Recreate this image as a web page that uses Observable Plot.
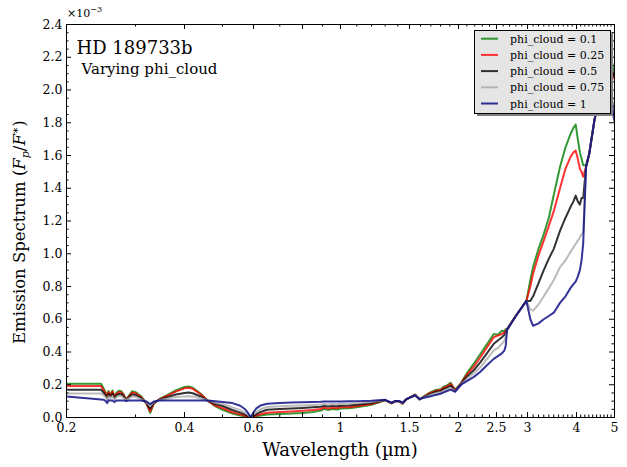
<!DOCTYPE html>
<html>
<head>
<meta charset="utf-8">
<script src="https://cdn.jsdelivr.net/npm/d3@7"></script>
<script src="https://cdn.jsdelivr.net/npm/@observablehq/plot@0.6"></script>
<style>
  body { margin: 0; background: #fff; }
  svg { display: block; }
</style>
</head>
<body>
<div id="chart"></div>
<script>
// Wavelength grid (µm) shared by every emission spectrum
const wavelength = [
  0.200, 0.245, 0.249, 0.252, 0.254, 0.256, 0.259, 0.262, 0.265, 0.268,
  0.272, 0.276, 0.280, 0.284, 0.289, 0.294, 0.300, 0.310, 0.320, 0.327,
  0.334, 0.345, 0.360, 0.380, 0.400, 0.410, 0.420, 0.440, 0.457, 0.480,
  0.500, 0.530, 0.555, 0.570, 0.580, 0.590, 0.600, 0.610, 0.625, 0.650,
  0.700, 0.750, 0.800, 0.850, 0.890, 0.910, 0.930, 0.950, 0.980, 1.000,
  1.050, 1.100, 1.200, 1.300, 1.350, 1.380, 1.410, 1.440, 1.470, 1.510,
  1.550, 1.590, 1.630, 1.690, 1.750, 1.800, 1.840, 1.870, 1.910, 1.960,
  2.030, 2.100, 2.190, 2.270, 2.360, 2.460, 2.520, 2.580, 2.620, 2.640,
  2.660, 2.800, 2.980, 3.050, 3.100, 3.200, 3.300, 3.400, 3.500, 3.630,
  3.750, 3.860, 3.930, 3.980, 4.030, 4.080, 4.120, 4.160, 4.230, 4.310,
  4.440, 4.600, 4.750, 4.900, 4.960, 5.000
];

// Planet/star flux ratio, in units of 1e-3, one array per cloud fraction
const phiCloud010 = [
  0.206, 0.206, 0.175, 0.150, 0.130, 0.162, 0.140, 0.165, 0.128, 0.150,
  0.163, 0.160, 0.140, 0.108, 0.135, 0.160, 0.155, 0.130, 0.085, 0.028,
  0.085, 0.112, 0.135, 0.165, 0.186, 0.189, 0.182, 0.145, 0.105, 0.068,
  0.047, 0.024, 0.012, 0.007, 0.004, 0.001, 0.004, 0.007, 0.012, 0.018,
  0.022, 0.024, 0.028, 0.034, 0.042, 0.053, 0.045, 0.052, 0.049, 0.055,
  0.056, 0.063, 0.078, 0.105, 0.086, 0.098, 0.100, 0.084, 0.110, 0.125,
  0.140, 0.110, 0.128, 0.152, 0.168, 0.172, 0.190, 0.196, 0.212, 0.168,
  0.210, 0.270, 0.330, 0.385, 0.445, 0.510, 0.505, 0.530, 0.525, 0.540,
  0.540, 0.620, 0.712, 0.840, 0.920, 1.030, 1.120, 1.220, 1.360, 1.530,
  1.650, 1.730, 1.770, 1.789, 1.700, 1.620, 1.580, 1.540, 1.540, 1.610,
  1.810, 2.000, 2.250, 2.200, 2.130, 2.120
];
const phiCloud025 = [
  0.193, 0.193, 0.165, 0.143, 0.125, 0.155, 0.135, 0.158, 0.124, 0.144,
  0.156, 0.153, 0.135, 0.108, 0.131, 0.152, 0.148, 0.125, 0.085, 0.038,
  0.087, 0.111, 0.130, 0.158, 0.178, 0.181, 0.175, 0.142, 0.105, 0.072,
  0.057, 0.032, 0.019, 0.011, 0.006, 0.001, 0.006, 0.012, 0.020, 0.029,
  0.034, 0.037, 0.041, 0.046, 0.052, 0.061, 0.054, 0.060, 0.057, 0.062,
  0.063, 0.069, 0.082, 0.106, 0.087, 0.099, 0.100, 0.085, 0.110, 0.125,
  0.140, 0.110, 0.126, 0.149, 0.163, 0.168, 0.184, 0.191, 0.205, 0.166,
  0.208, 0.260, 0.312, 0.365, 0.425, 0.490, 0.500, 0.510, 0.520, 0.530,
  0.540, 0.620, 0.712, 0.800, 0.880, 0.990, 1.080, 1.170, 1.260, 1.400,
  1.520, 1.590, 1.620, 1.630, 1.580, 1.520, 1.500, 1.470, 1.530, 1.610,
  1.810, 2.000, 2.220, 2.150, 2.080, 2.070
];
const phiCloud050 = [
  0.170, 0.170, 0.150, 0.132, 0.118, 0.143, 0.127, 0.145, 0.117, 0.134,
  0.144, 0.142, 0.127, 0.107, 0.125, 0.140, 0.137, 0.118, 0.088, 0.055,
  0.090, 0.109, 0.122, 0.140, 0.150, 0.152, 0.148, 0.128, 0.105, 0.082,
  0.070, 0.046, 0.030, 0.019, 0.010, 0.002, 0.011, 0.021, 0.034, 0.047,
  0.052, 0.055, 0.058, 0.062, 0.066, 0.072, 0.067, 0.071, 0.069, 0.072,
  0.074, 0.078, 0.088, 0.106, 0.088, 0.100, 0.100, 0.087, 0.110, 0.125,
  0.138, 0.111, 0.124, 0.143, 0.156, 0.161, 0.175, 0.182, 0.193, 0.163,
  0.206, 0.248, 0.290, 0.335, 0.390, 0.450, 0.470, 0.490, 0.505, 0.520,
  0.535, 0.620, 0.712, 0.712, 0.740, 0.820, 0.900, 0.970, 1.030, 1.140,
  1.220, 1.285, 1.320, 1.355, 1.320, 1.300, 1.340, 1.340, 1.530, 1.610,
  1.810, 2.000, 2.200, 2.150, 2.100, 2.080
];
const phiCloud075 = [
  0.147, 0.147, 0.135, 0.122, 0.110, 0.130, 0.118, 0.132, 0.110, 0.124,
  0.132, 0.130, 0.119, 0.106, 0.118, 0.128, 0.126, 0.112, 0.092, 0.070,
  0.094, 0.107, 0.115, 0.125, 0.129, 0.130, 0.128, 0.118, 0.105, 0.090,
  0.083, 0.062, 0.045, 0.030, 0.017, 0.002, 0.018, 0.033, 0.050, 0.064,
  0.069, 0.071, 0.073, 0.076, 0.079, 0.083, 0.080, 0.082, 0.081, 0.084,
  0.085, 0.088, 0.095, 0.107, 0.089, 0.100, 0.101, 0.088, 0.110, 0.124,
  0.136, 0.112, 0.122, 0.137, 0.148, 0.154, 0.166, 0.172, 0.181, 0.160,
  0.203, 0.236, 0.270, 0.305, 0.355, 0.410, 0.425, 0.450, 0.470, 0.495,
  0.535, 0.620, 0.712, 0.660, 0.653, 0.690, 0.740, 0.790, 0.840, 0.918,
  0.960, 1.010, 1.040, 1.060, 1.080, 1.100, 1.120, 1.130, 1.530, 1.610,
  1.810, 2.000, 2.150, 2.050, 1.900, 1.850
];
const phiCloud100 = [
  0.128, 0.110, 0.108, 0.100, 0.088, 0.105, 0.104, 0.104, 0.094, 0.104,
  0.104, 0.104, 0.104, 0.100, 0.104, 0.104, 0.104, 0.104, 0.098, 0.082,
  0.098, 0.104, 0.104, 0.104, 0.104, 0.104, 0.104, 0.104, 0.104, 0.099,
  0.095, 0.088, 0.072, 0.052, 0.030, 0.002, 0.032, 0.056, 0.073, 0.084,
  0.089, 0.091, 0.093, 0.095, 0.096, 0.097, 0.097, 0.097, 0.097, 0.098,
  0.099, 0.100, 0.103, 0.108, 0.090, 0.101, 0.101, 0.090, 0.110, 0.124,
  0.134, 0.113, 0.120, 0.128, 0.138, 0.145, 0.155, 0.162, 0.170, 0.157,
  0.200, 0.222, 0.248, 0.278, 0.318, 0.358, 0.375, 0.392, 0.410, 0.440,
  0.535, 0.620, 0.712, 0.600, 0.560, 0.575, 0.600, 0.620, 0.640, 0.700,
  0.740, 0.790, 0.815, 0.830, 0.860, 0.900, 0.960, 1.060, 1.530, 1.610,
  1.810, 2.000, 2.100, 2.000, 1.850, 1.810
];

const seriesLabels = ["phi_cloud = 0.1", "phi_cloud = 0.25", "phi_cloud = 0.5", "phi_cloud = 0.75", "phi_cloud = 1"];
const seriesColors = ["#008000", "#ff0000", "#000000", "#a9a9a9", "#000080"];
const seriesValues = [phiCloud010, phiCloud025, phiCloud050, phiCloud075, phiCloud100];

const xTickValues = [0.2, 0.4, 0.6, 0.8, 1, 1.5, 2, 2.5, 3, 4, 5];
const xTickLabels = ["0.2", "0.4", "0.6", "0.8", "1", "1.5", "2", "2.5", "3", "4", "5"];
const yTickValues = [0, 0.2, 0.4, 0.6, 0.8, 1.0, 1.2, 1.4, 1.6, 1.8, 2.0, 2.2, 2.4];

// Long-form rows for the line mark
const rows = seriesValues.flatMap((vals, i) =>
  vals.map((v, j) => ({w: wavelength[j], v, s: seriesLabels[i]}))
);

const W = 627, H = 467;
const mTop = 24, mRight = 13, mBottom = 50, mLeft = 66;
const fw = W - mLeft - mRight, fh = H - mTop - mBottom;
const majorLen = 5, minorLen = 2.5;

// Minor ticks: every 0.1 µm on the log axis, every 0.05 on the linear axis
const xMinor = d3.range(2, 51).map(k => k / 10).filter(v => !xTickValues.some(t => Math.abs(t - v) < 1e-9));
const yMinor = d3.range(0, 49).map(k => k * 0.05).filter(v => !yTickValues.some(t => Math.abs(t - v) < 1e-9));

const serif = "DejaVu Serif, Liberation Serif, serif";
const tickLabelMap = new Map(xTickValues.map((v, i) => [v, xTickLabels[i]]));

const svg = Plot.plot({
  width: W, height: H,
  marginTop: mTop, marginRight: mRight, marginBottom: mBottom, marginLeft: mLeft,
  style: {fontFamily: serif, fontSize: "12.5px", background: "white", color: "black"},
  x: {type: "log", domain: [0.2, 5]},
  y: {domain: [0, 2.4]},
  color: {domain: seriesLabels, range: seriesColors},
  marks: [
    Plot.line(rows, {x: "w", y: "v", z: "s", stroke: "s", strokeWidth: 2, strokeOpacity: 0.8, clip: true}),
    Plot.frame({stroke: "black", strokeWidth: 1}),
    // inward ticks on all four sides
    Plot.tickX(xTickValues, {x: d => d, insetTop: fh - majorLen, stroke: "black"}),
    Plot.tickX(xTickValues, {x: d => d, insetBottom: fh - majorLen, stroke: "black"}),
    Plot.tickX(xMinor, {x: d => d, insetTop: fh - minorLen, stroke: "black"}),
    Plot.tickX(xMinor, {x: d => d, insetBottom: fh - minorLen, stroke: "black"}),
    Plot.tickY(yTickValues, {y: d => d, insetRight: fw - majorLen, stroke: "black"}),
    Plot.tickY(yTickValues, {y: d => d, insetLeft: fw - majorLen, stroke: "black"}),
    Plot.tickY(yMinor, {y: d => d, insetRight: fw - minorLen, stroke: "black"}),
    Plot.tickY(yMinor, {y: d => d, insetLeft: fw - minorLen, stroke: "black"}),
    Plot.axisX({ticks: xTickValues, tickSize: 0, tickPadding: 6, tickFormat: d => tickLabelMap.get(d), label: null}),
    Plot.axisY({ticks: yTickValues, tickSize: 0, tickPadding: 4, tickFormat: d3.format(".1f"), label: null}),
    Plot.text(["HD 189733b"], {frameAnchor: "top-left", lineAnchor: "top", dx: 10, dy: 17, fontSize: 18, fill: "black"}),
    Plot.text(["Varying phi_cloud"], {frameAnchor: "top-left", lineAnchor: "top", dx: 15, dy: 39, fontSize: 15, fill: "black"})
  ]
});

document.getElementById("chart").appendChild(svg);

const root = d3.select(svg);

// Offset multiplier above the y axis
const mult = root.append("text")
  .attr("x", mLeft + 1).attr("y", 17)
  .attr("text-anchor", "start")
  .attr("font-family", serif).attr("font-size", 11).attr("fill", "black");
mult.append("tspan").text("×10");
mult.append("tspan").attr("dy", -5).attr("font-size", 8).text("−3");

// Axis titles
root.append("text")
  .attr("x", mLeft + fw / 2).attr("y", 456)
  .attr("text-anchor", "middle")
  .attr("font-family", serif).attr("font-size", 18).attr("fill", "black")
  .text("Wavelength (µm)");

// Rotated y title, written from the bottom upward
const yLab = root.append("text")
  .attr("transform", "translate(25,344) rotate(-90)")
  .attr("text-anchor", "start")
  .attr("font-family", serif).attr("font-size", 16.5).attr("fill", "black");
yLab.append("tspan").text("Emission Spectrum (");
yLab.append("tspan").attr("font-style", "italic").text("F");
yLab.append("tspan").attr("font-style", "italic").attr("font-size", 11).attr("dy", 4).text("p");
yLab.append("tspan").attr("dy", -4).text("/");
yLab.append("tspan").attr("font-style", "italic").text("F");
yLab.append("tspan").attr("font-size", 11).attr("dy", -6).text("∗");
yLab.append("tspan").attr("dy", 6).text(")");

// Legend box with drop shadow
const lg = root.append("g").attr("transform", "translate(474,30)");
const lw = 136, lh = 83;
lg.append("rect").attr("x", 3).attr("y", 3).attr("width", lw).attr("height", lh).attr("fill", "#808080");
lg.append("rect").attr("x", 0.5).attr("y", 0.5).attr("width", lw).attr("height", lh)
  .attr("fill", "#e5e5e5").attr("stroke", "black").attr("stroke-width", 1);
seriesLabels.forEach((label, i) => {
  const yb = 12.7 + i * 16.2;
  lg.append("line").attr("x1", 7).attr("x2", 24).attr("y1", yb - 4).attr("y2", yb - 4)
    .attr("stroke", seriesColors[i]).attr("stroke-opacity", 0.8).attr("stroke-width", 2);
  lg.append("text").attr("x", 36).attr("y", yb)
    .attr("text-anchor", "start")
    .attr("font-family", serif).attr("font-size", 11).attr("fill", "black").text(label);
});
</script>
</body>
</html>
